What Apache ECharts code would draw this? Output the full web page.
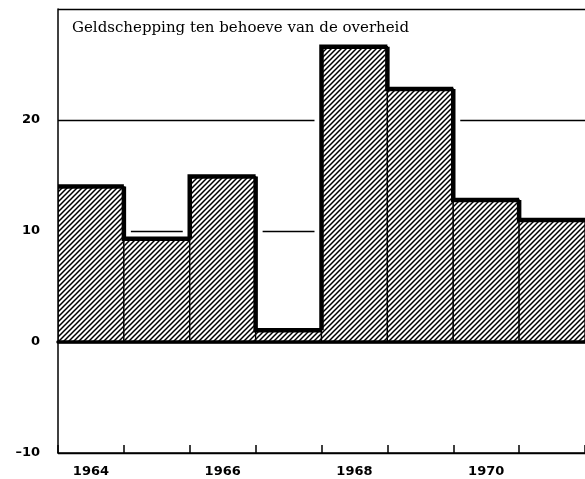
<!DOCTYPE html>
<html>
<head>
<meta charset="utf-8">
<title>Geldschepping ten behoeve van de overheid</title>
<script src="https://cdn.jsdelivr.net/npm/echarts@6/dist/echarts.min.js"></script>
<style>
  html, body { margin: 0; padding: 0; background: #fff; }
  #main { width: 585px; height: 479px; }
</style>
</head>
<body>
<div id="main"></div>
<script>
// gegevens
var jaren = ["1964", "1965", "1966", "1967", "1968", "1969", "1970", "1971"];
var geldschepping = [14.0, 9.3, 14.9, 1.05, 26.6, 22.8, 12.8, 11.0];
var yMin = -10;
var yMax = 30;
var yStap = 10;

// arcering (schuine lijnen)
function maakArcering() {
  var c = document.createElement("canvas");
  c.width = 5;
  c.height = 5;
  var ctx = c.getContext("2d");
  ctx.fillStyle = "#fff";
  ctx.fillRect(0, 0, 5, 5);
  ctx.strokeStyle = "#000";
  ctx.lineWidth = 1.5;
  ctx.beginPath();
  ctx.moveTo(-1, 6); ctx.lineTo(6, -1);
  ctx.moveTo(-1, 1); ctx.lineTo(1, -1);
  ctx.moveTo(4, 6); ctx.lineTo(6, 4);
  ctx.stroke();
  return c;
}
var arcering = { image: maakArcering(), repeat: "repeat" };

function tekenStaaf(params, api) {
  var i = params.dataIndex;
  var top = api.coord([api.value(0), api.value(1)]);
  var nul = api.coord([api.value(0), 0]);
  var breedte = api.size([1, 0])[0];
  var links = top[0] - breedte / 2;
  var rechts = top[0] + breedte / 2;
  var punten = [[links, top[1]], [rechts, top[1]]];
  if (i > 0) {
    var vorige = api.coord([i - 1, geldschepping[i - 1]]);
    punten.unshift([links, vorige[1]]);
  }
  return {
    type: "group",
    children: [
      {
        // witte rand zodat de rasterlijnen bij de staven onderbroken zijn
        type: "rect",
        z2: 0,
        shape: { x: links - 7, y: top[1], width: breedte + 14, height: nul[1] - top[1] },
        style: { fill: "#fff" }
      },
      {
        type: "rect",
        z2: 1,
        shape: { x: links, y: top[1], width: breedte, height: nul[1] - top[1] },
        style: { fill: arcering, stroke: "#000", lineWidth: 1.3 }
      },
      {
        type: "polyline",
        z2: 2,
        shape: { points: punten },
        style: { fill: null, stroke: "#000", lineWidth: 4.5, lineJoin: "miter" }
      }
    ]
  };
}

var labelStijl = {
  color: "#000",
  fontFamily: "DejaVu Sans",
  fontWeight: "bold",
  fontSize: 13
};

var myChart = echarts.init(document.getElementById("main"));
var option = {
  backgroundColor: "#fff",
  animation: false,
  title: {
    text: "Geldschepping ten behoeve van de overheid",
    left: 72,
    top: 21,
    padding: 0,
    textStyle: {
      color: "#000",
      fontFamily: "DejaVu Serif",
      fontWeight: "normal",
      fontSize: 15
    }
  },
  grid: {
    left: 58,
    right: -3,
    top: 9,
    bottom: 26
  },
  xAxis: [
    {
      type: "category",
      data: jaren,
      position: "bottom",
      z: 10,
      axisLine: { onZero: false, lineStyle: { color: "#000", width: 1.5 } },
      axisTick: { show: true, inside: true, length: 8, interval: 0, lineStyle: { color: "#000", width: 1.5 } },
      axisLabel: Object.assign({ interval: 1, margin: 12 }, labelStijl),
      splitLine: { show: false }
    },
    {
      // dikke nullijn
      type: "category",
      data: jaren,
      position: "bottom",
      z: 10,
      axisLine: { onZero: true, lineStyle: { color: "#000", width: 3.5 } },
      axisTick: { show: false },
      axisLabel: { show: false },
      splitLine: { show: false }
    }
  ],
  yAxis: [
    {
      type: "value",
      min: yMin,
      max: yMax,
      interval: yStap,
      axisLine: { show: false },
      axisTick: { show: false },
      axisLabel: { show: false },
      splitLine: { show: true, lineStyle: { color: "#000", width: 1.4 } }
    },
    {
      type: "value",
      min: yMin,
      max: yMax,
      interval: yStap,
      position: "left",
      z: 10,
      axisLine: { show: true, onZero: false, lineStyle: { color: "#000", width: 1.5 } },
      axisTick: { show: false },
      axisLabel: Object.assign({
        margin: 18,
        formatter: function (v) {
          if (v === yMax) return "";
          return v < 0 ? "\u2013" + Math.abs(v) : String(v);
        }
      }, labelStijl),
      splitLine: { show: false }
    }
  ],
  series: [
    {
      type: "custom",
      xAxisIndex: 0,
      yAxisIndex: 0,
      clip: true,
      renderItem: tekenStaaf,
      encode: { x: 0, y: 1 },
      data: jaren.map(function (j, i) {
        return [i, geldschepping[i]];
      })
    }
  ]
};
myChart.setOption(option);
</script>
</body>
</html>
